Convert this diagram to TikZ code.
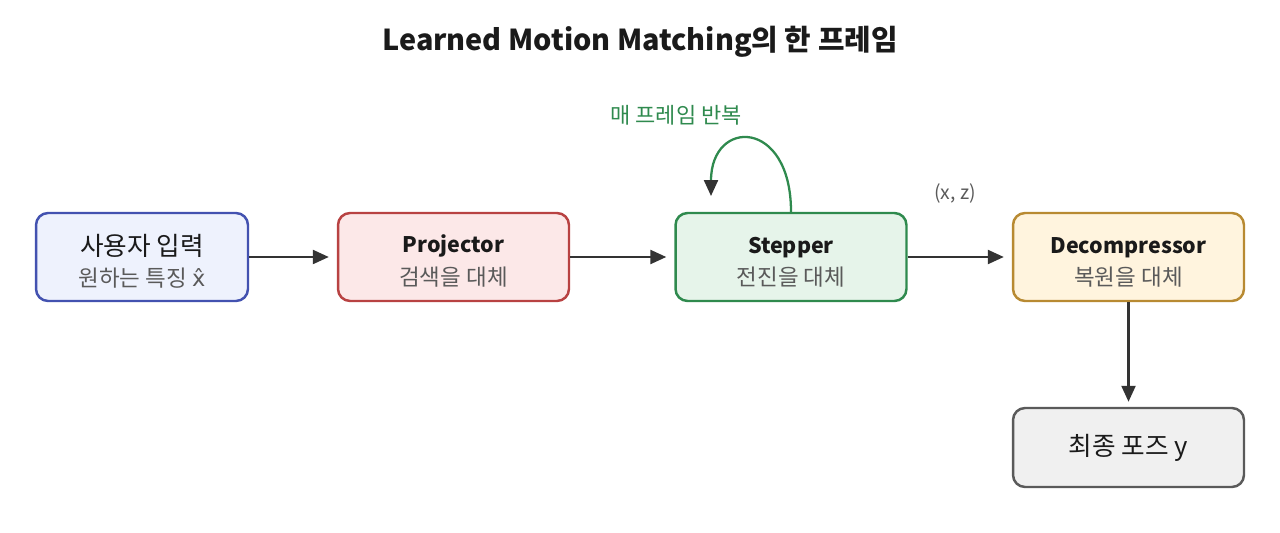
\documentclass[tikz,border=0pt]{standalone}
\usepackage{fontspec}
\setmainfont{Noto Sans CJK KR}
\newfontfamily\accfont{DejaVu Sans}
\usetikzlibrary{arrows.meta,positioning}

\definecolor{txtdark}{HTML}{1A1A1A}
\definecolor{txtgray}{HTML}{5A5A5A}
\definecolor{linkgray}{HTML}{333333}
\definecolor{inputline}{HTML}{4352B0}
\definecolor{inputfill}{HTML}{EEF2FD}
\definecolor{projline}{HTML}{B84242}
\definecolor{projfill}{HTML}{FCE8E8}
\definecolor{stepline}{HTML}{2F8A4E}
\definecolor{stepfill}{HTML}{E6F4EA}
\definecolor{decline}{HTML}{B88A32}
\definecolor{decfill}{HTML}{FFF4DE}
\definecolor{poseline}{HTML}{5A5A5A}
\definecolor{posefill}{HTML}{F0F0F0}

\tikzset{
  box/.style={draw, line width=1.4pt, rounded corners=0.24cm, minimum width=4.62cm,
    minimum height=1.76cm, align=center, text=txtdark, inner sep=0pt},
  link/.style={line width=1.3pt, draw=linkgray, -{Triangle[length=0.32cm,width=0.28cm]}},
}
\newcommand{\subline}[1]{{\fontsize{12.8}{15}\selectfont\color{txtgray}#1}}
\newcommand{\headline}[1]{{\fontsize{12.2}{15}\selectfont\bfseries\rule{0pt}{15.2pt}#1}}

\begin{document}
\begin{tikzpicture}[x=0.02cm,y=-0.02cm]
\useasboundingbox (0,0) rectangle (1280,533);

% Title
\node[font=\fontsize{16.4}{19}\selectfont\bfseries, text=txtdark] (title) at (640,42) {Learned Motion Matching의 한 프레임};

% Stages
\node[box, draw=inputline, fill=inputfill, minimum width=4.24cm] (input) at (142,257)
  {{\fontsize{14.6}{17}\selectfont\rule{0pt}{17pt}사용자 입력}\\[5.5pt]\subline{원하는 특징 {\accfont x̂}}};
\node[box, draw=projline, fill=projfill] (proj) at (453.5,257)
  {\headline{Projector}\\[4.5pt]\subline{검색을 대체}};
\node[box, draw=stepline, fill=stepfill] (step) at (791,257)
  {\headline{Stepper}\\[4.5pt]\subline{전진을 대체}};
\node[box, draw=decline, fill=decfill] (dec) at (1128.5,257)
  {\headline{Decompressor}\\[4.5pt]\subline{복원을 대체}};
\node[box, draw=poseline, fill=posefill, minimum height=1.58cm] (pose) at (1128.5,447.5)
  {{\fontsize{14.6}{17}\selectfont 최종 포즈 y}};

% Links
\draw[link, shorten >=0.16cm] (input) -- (proj);
\draw[link, shorten >=0.16cm] (proj) -- (step);
\draw[link, shorten >=0.16cm] (step) -- (dec);
\draw[link, shorten >=0.1cm] (dec) -- (pose);

% Loop on the stepper
\coordinate (loopend) at (711,196);
\draw[line width=1.3pt, draw=stepline, -{Triangle[length=0.32cm,width=0.28cm,color=linkgray]}]
  (step.north) .. controls (791,118) and (711,118) .. (loopend);
\node[font=\fontsize{12.5}{15}\selectfont, text=stepline] (looplabel) at (676,115) {매 프레임 반복};
\node[font=\fontsize{11}{13}\selectfont, text=txtgray] (xz) at (955,193) {(x, z)};
\end{tikzpicture}
\end{document}
